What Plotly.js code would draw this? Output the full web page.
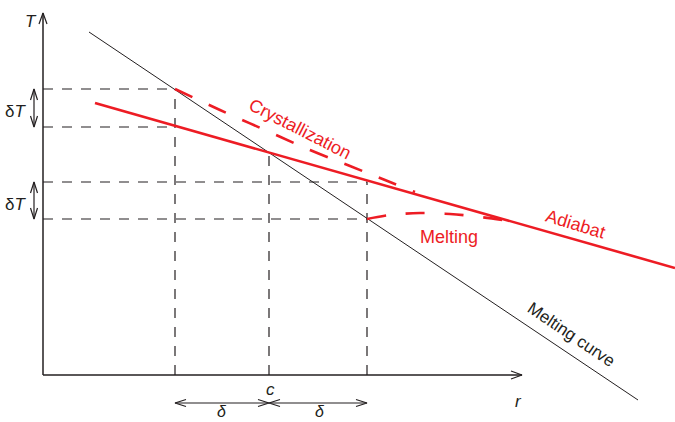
<!DOCTYPE html>
<html>
<head>
<meta charset="utf-8">
<script src="https://cdn.plot.ly/plotly-3.0.1.min.js"></script>
<style>html,body{margin:0;padding:0;background:#fff}#chart{width:675px;height:422px}</style>
</head>
<body>
<div id="chart"></div>
<script>
// ---- schematic data (r, T in diagram units) ----
const originR = 43, originT = 47;
const axisTopT = 409, axisEndR = 522;
const meltingCurveR = [89, 638];
const meltingCurveT = [390, 22];
const adiabatR = [95, 675];
const adiabatT = [319, 154];
const crystR = [175, 220, 265, 310, 350, 385, 415];
const crystT = [333, 312, 292, 272, 256, 242, 230];
const meltR = [367, 390, 420, 450, 480, 510];
const meltT = [203, 207, 209, 208, 205, 201];
const levelT = [333, 295, 240, 203];      // horizontal dashed levels
const levelEndR = [175, 175, 367, 367];
const dropR = [175, 269, 367];            // vertical dashed drops
const dropTopT = [333, 270, 240];
const cR = 269;                            // intersection point c
const deltaArrowT = 19;
const dTArrowR = 34;
const dTPairs = [[333, 295], [240, 203]];

const RED = '#ed1c24', BLK = '#231f20';
const FONT = 'Liberation Sans, Arial, sans-serif';
const traces = [];

function line(xs, ys, color, width, dash) {
  traces.push({x: xs, y: ys, mode: 'lines', hoverinfo: 'skip', showlegend: false,
    line: {color: color, width: width, dash: dash || 'solid'}});
}
function head(tx, ty, dx, dy, len, hw) {
  const n = Math.hypot(dx, dy); dx /= n; dy /= n;
  const px = -dy, py = dx;
  line([tx - dx*len + px*hw, tx, tx - dx*len - px*hw],
       [ty - dy*len + py*hw, ty, ty - dy*len - py*hw], BLK, 1.2);
}

// dashed guides
levelT.forEach((t, i) => line([originR, levelEndR[i]], [t, t], BLK, 1.2, '10px,9px'));
dropR.forEach((r, i) => line([r, r], [originT, dropTopT[i]], BLK, 1.2, '10px,9px'));

// curves
line(meltingCurveR, meltingCurveT, BLK, 1);
line(adiabatR, adiabatT, RED, 2.6);
traces.push({x: crystR, y: crystT, mode: 'lines', hoverinfo: 'skip', showlegend: false,
  line: {color: RED, width: 2.6, dash: '19px,18px', shape: 'spline'}});
traces.push({x: meltR, y: meltT, mode: 'lines', hoverinfo: 'skip', showlegend: false,
  line: {color: RED, width: 2.6, dash: '19px,20px', shape: 'spline'}});

// axes
line([originR, originR], [originT, axisTopT], BLK, 1.5);
line([originR, axisEndR], [originT, originT], BLK, 1.5);
head(originR, axisTopT, 0, 1, 11, 4);
head(axisEndR, originT, 1, 0, 11, 4);

// dT arrows
dTPairs.forEach(p => {
  line([dTArrowR, dTArrowR], [p[0], p[1]], BLK, 1.2);
  head(dTArrowR, p[0], 0, 1, 11, 3.5);
  head(dTArrowR, p[1], 0, -1, 11, 3.5);
});
// delta arrows
[[dropR[0], cR], [cR, dropR[2]]].forEach(p => {
  line([p[0], p[1]], [deltaArrowT, deltaArrowT], BLK, 1.2);
  head(p[0], deltaArrowT, -1, 0, 11, 3.5);
  head(p[1], deltaArrowT, 1, 0, 11, 3.5);
});

function txt(x, y, s, color, size, angle, extra) {
  return Object.assign({x: x, y: y, xref: 'x', yref: 'y', text: s, showarrow: false,
    textangle: angle || 0, font: {family: FONT, size: size, color: color}}, extra || {});
}
const annotations = [
  txt(31, 401, '<i>T</i>', BLK, 17),
  txt(518, 21, '<i>r</i>', BLK, 17),
  txt(270, 33, '<i>c</i>', BLK, 17),
  txt(15, 311, 'δ<i>T</i>', BLK, 17),
  txt(15, 218, 'δ<i>T</i>', BLK, 17),
  txt(222, 0, '<i>δ</i>', BLK, 16, 0, {yanchor: 'bottom'}),
  txt(320, 0, '<i>δ</i>', BLK, 16, 0, {yanchor: 'bottom'}),
  txt(300, 293, 'Crystallization', RED, 18, 27),
  txt(575, 198, 'Adiabat', RED, 18, 17),
  txt(449, 185, 'Melting', RED, 18, 0),
  txt(571, 88, 'Melting curve', BLK, 17, 34)
];

Plotly.newPlot('chart', traces, {
  width: 675, height: 422,
  margin: {l: 0, r: 0, t: 0, b: 0},
  paper_bgcolor: '#fff', plot_bgcolor: '#fff',
  xaxis: {range: [0, 675], visible: false, fixedrange: true},
  yaxis: {range: [0, 422], visible: false, fixedrange: true},
  annotations: annotations,
  showlegend: false
}, {displayModeBar: false, staticPlot: true});
</script>
</body>
</html>
